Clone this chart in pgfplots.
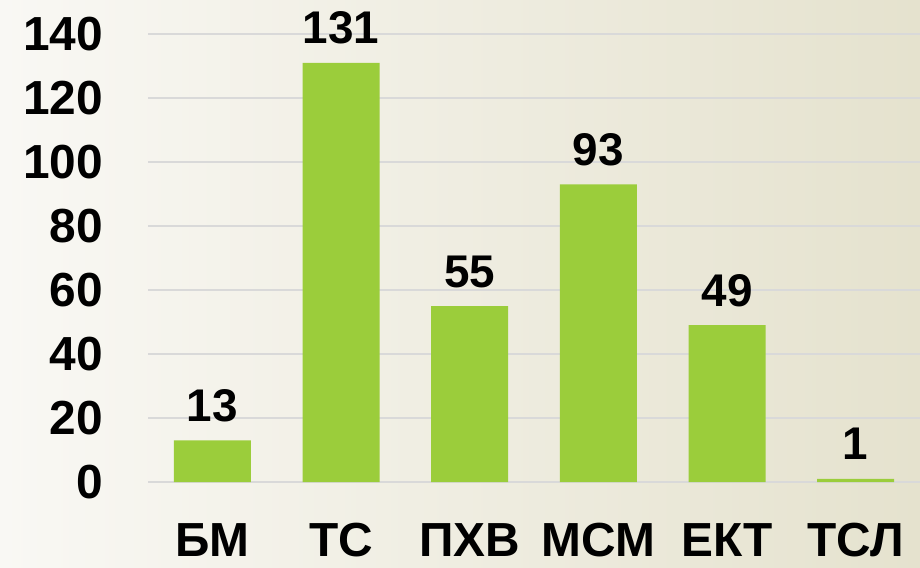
\documentclass[border=0pt]{standalone}
\usepackage{fontspec}
\setmainfont{Liberation Sans}
\usepackage{pgfplots}
\pgfplotsset{compat=1.18}
\definecolor{barg}{RGB}{155,205,59}
\definecolor{bgl}{RGB}{249,248,244}
\definecolor{bgr}{RGB}{229,226,206}
\definecolor{gridc}{RGB}{217,217,217}
\begin{document}
\begin{tikzpicture}[x=1bp,y=1bp]
\useasboundingbox (0,0) rectangle (460,283.5);
\shade[left color=bgl,right color=bgr] (0,0) rectangle (460,283.5);
\begin{axis}[
  at={(74bp,42.5bp)}, anchor=south west,
  scale only axis, width=386bp, height=224bp,
  xmin=-0.5, xmax=5.5, ymin=0, ymax=140,
  axis line style={draw=none}, tick style={draw=none},
  ymajorgrids, grid style={gridc, line width=1bp},
  ytick={0,20,...,140},
  xtick={0,...,5},
  xticklabels={БМ,ТС,ПХВ,МСМ,ЕКТ,ТСЛ},
  /pgf/number format/assume math mode=true,
  ticklabel style={font=\fontsize{24}{28}\selectfont\bfseries},
  yticklabel style={anchor=east, xshift=-19bp},
  xticklabel style={anchor=base, inner sep=0pt, yshift=-33bp},
  ybar, bar width=38.5bp, bar shift=0pt,
  nodes near coords,
  every node near coord/.append style={font=\fontsize{23}{27}\selectfont\bfseries, anchor=base, yshift=9.5bp, black},
  clip=false,
]
\addplot[fill=barg, draw=none] coordinates {(0,13)(1,131)(2,55)(3,93)(4,49)(5,1)};
\end{axis}
\end{tikzpicture}
\end{document}
